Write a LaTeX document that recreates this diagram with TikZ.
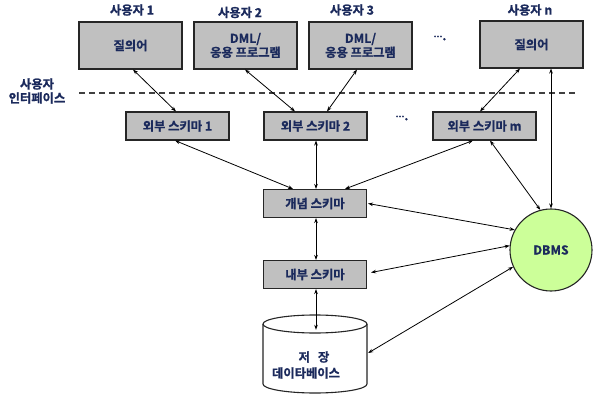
\documentclass[tikz,border=0pt]{standalone}
\usepackage{fontspec}
\setmainfont{Noto Sans CJK KR}[BoldFont={Noto Sans CJK KR Bold}, BoldFeatures={FakeBold=1}]
\usetikzlibrary{arrows.meta,calc}
\definecolor{txt}{HTML}{1B2A5C}
\definecolor{boxgray}{HTML}{C0C0C0}
\definecolor{dbgreen}{HTML}{CCFF99}
\newcommand{\moredots}{\raisebox{3pt}{\fontsize{9}{9}\selectfont ...}.}
\begin{document}
\begin{tikzpicture}[x=1pt,y=-1pt,
  every node/.style={font=\bfseries\fontsize{12.3}{14}\selectfont, text=txt},
  box/.style={draw=black!85, line width=1.1pt, fill=boxgray, minimum width=103pt, inner sep=0pt, align=center},
  topbox/.style={box, minimum height=47pt},
  schemabox/.style={box, minimum height=28pt},
  link/.style={<->, >={Stealth[length=5pt,width=3.6pt]}, line width=0.8pt, black},
  sep/.style={dash pattern=on 6pt off 4pt, line width=1.1pt, black!75}]
\fill[white] (0,0) rectangle (602,398);
\useasboundingbox (0,0) rectangle (602,398);

% users
\node (u1) at (132,10) {사용자 1};
\node (u2) at (240,12.5) {사용자 2};
\node (u3) at (352,10) {사용자 3};
\node (un) at (530,10) {사용자 n};

\node[topbox] (b1) at (130.5,45.5) {질의어};
\node[topbox] (b2) at (245.5,45.5) {DML/\\응용 프로그램};
\node[topbox] (b3) at (360.5,45.5) {DML/\\응용 프로그램};
\node[topbox] (bn) at (531.5,44.5) {질의어};
\node (dots1) at (440,38) {\moredots};

% interface line
\node[align=center] (ui) at (37,91) {사용자\\인터페이스};
\coordinate (dl) at (79,93);
\coordinate (dr) at (578,93);
\draw[sep] (dl) -- (dr);

% schemas
\node[schemabox] (e1) at (177.5,126) {외부 스키마 1};
\node[schemabox] (e2) at (315.5,126) {외부 스키마 2};
\node[schemabox] (em) at (484.5,126) {외부 스키마 m};
\node (dots2) at (402,118) {\moredots};
\node[schemabox] (c) at (315,203.5) {개념 스키마};
\node[schemabox] (i) at (315,274.5) {내부 스키마};

% database cylinder
\fill[white] (263,324) -- (263,384) arc[start angle=180, end angle=360, x radius=52pt, y radius=9pt] -- (367,324) -- cycle;
\draw[line width=1.1pt, black!85] (263,324) -- (263,384) arc[start angle=180, end angle=360, x radius=52pt, y radius=9pt] -- (367,324);
\draw[line width=1.1pt, black!85, fill=white] (315,324) ellipse[x radius=52pt, y radius=9pt];
\node[minimum width=104pt, minimum height=78pt, inner sep=0pt] (db) at (315,354) {};
\node (dbt1) at (314,357) {저\hspace{8pt}장};
\node (dbt2) at (306,373) {데이타베이스};

% DBMS
\node[circle, draw=black!85, line width=1.1pt, fill=dbgreen, minimum size=82pt, inner sep=0pt] (dbms) at (551,250) {DBMS};

% connectors
\draw[link] ([xshift=2.5pt]b1.south) -- ([xshift=-1.5pt]e1.north);
\draw[link] ([xshift=-0.5pt]b2.south) -- ([xshift=-20.5pt]e2.north);
\draw[link] ([xshift=-3.5pt]b3.south) -- ([xshift=11.5pt]e2.north);
\draw[link] ([xshift=-11.5pt]bn.south) -- ([xshift=-4.5pt]em.north);
\draw[link] (bn.south -| dbms.north) -- (dbms.north);
\draw[link] ([xshift=5.5pt]em.south) -- (dbms.105.7);
\draw[link] ([xshift=-2.5pt]e1.south) -- ([xshift=-22pt]c.north);
\draw[link] ([xshift=0.5pt]e2.south) -- ([xshift=1pt]c.north);
\draw[link] ([xshift=-11.5pt]em.south) -- ([xshift=30pt]c.north);
\draw[link] ([xshift=1pt]c.east) -- (dbms.151);
\draw[link] ([xshift=1pt]c.south) -- ([xshift=1pt]i.north);
\draw[link] ([xshift=4pt,yshift=2pt]i.east) -- (dbms.174);
\draw[link] ([xshift=1pt]i.south) -- ($(db.north)+(1,15)$);
\draw[link] ([xshift=1pt,yshift=1pt]db.east) -- (dbms.204);
\end{tikzpicture}
\end{document}
